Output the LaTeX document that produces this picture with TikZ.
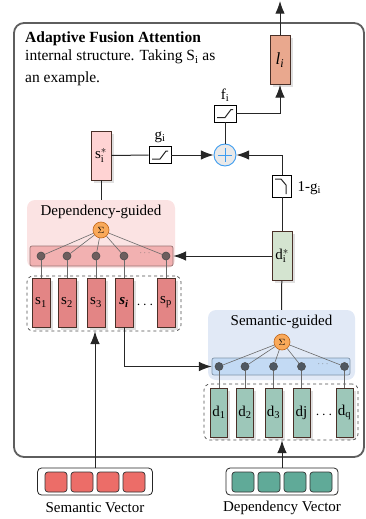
\documentclass[tikz,border=0pt]{standalone}
\usepackage{fontspec}
\setmainfont{Liberation Serif}
\usetikzlibrary{arrows,arrows.meta,shadows}

\definecolor{framegray}{HTML}{5E5E5E}
\definecolor{cellborder}{HTML}{4A3028}
\definecolor{lfill}{HTML}{E9A88E}
\definecolor{sstarfill}{HTML}{FFD3D3}
\definecolor{dstarfill}{HTML}{D4E4D0}
\definecolor{sred}{HTML}{E38585}
\definecolor{dgreen}{HTML}{9DC7B9}
\definecolor{deppanel}{HTML}{FBE3E3}
\definecolor{depbar}{HTML}{F2B1B1}
\definecolor{depbarborder}{HTML}{9A7474}
\definecolor{sempanel}{HTML}{E1E9F6}
\definecolor{sembar}{HTML}{C3DAF4}
\definecolor{sembarborder}{HTML}{8094A8}
\definecolor{depdot}{HTML}{6E5E5E}
\definecolor{semdot}{HTML}{4F5862}
\definecolor{sumfill}{HTML}{F9A95A}
\definecolor{sumborder}{HTML}{C0661A}
\definecolor{plusblue}{HTML}{3C9CF0}
\definecolor{plusfill}{HTML}{E9E9E9}
\definecolor{vecred}{HTML}{EC6D68}
\definecolor{vecgreen}{HTML}{60AA98}
\definecolor{wiregray}{HTML}{6A6A6A}

\begin{document}
\begin{tikzpicture}[x = 1pt, y = -1pt, font = \fontsize{15}{18}\selectfont,
                    >={Latex[scale=1.7]}]
\tikzstyle{Cell}=[draw = cellborder, line width = 0.8pt,
                  minimum width = 18pt, minimum height = 49pt, inner sep = 0pt,
                  drop shadow = {shadow xshift = 2.5pt, shadow yshift = -2.5pt, opacity = 0.25}]
\tikzstyle{Panel}=[rounded corners = 8pt, inner sep = 0pt]
\tikzstyle{Bar}=[line width = 0.7pt, rounded corners = 2pt, inner sep = 0pt]
\tikzstyle{Group}=[draw = black!70, dashed, line width = 0.7pt, rounded corners = 6pt, inner sep = 0pt]
\tikzstyle{Dot}=[circle, line width = 0.6pt, minimum size = 8pt, inner sep = 0pt]
\tikzstyle{Sigma}=[circle, fill = sumfill, draw = sumborder, line width = 0.6pt,
                   minimum size = 16pt, inner sep = 0pt, font = \fontsize{9}{9}\selectfont]
\tikzstyle{Gate}=[draw = black, fill = white, line width = 0.8pt, inner sep = 0pt]
\tikzstyle{Wire}=[draw = wiregray, line width = 0.6pt]
\tikzstyle{Line}=[draw = black!85, line width = 1pt]
\tikzstyle{Arrow}=[Line, ->]
\tikzstyle{Vec}=[draw = black!85, fill = white, line width = 0.8pt, rounded corners = 4pt,
                 minimum width = 115pt, minimum height = 27pt, inner sep = 0pt]
\tikzstyle{VecCell}=[draw = black!80, line width = 0.7pt, rounded corners = 3pt,
                     minimum width = 22pt, minimum height = 20pt, inner sep = 0pt]

\useasboundingbox (0,0) rectangle (366,519);

% frame and caption
\draw[draw = framegray, line width = 1.8pt, rounded corners = 10pt] (14,23) rectangle (364,457);
\node[anchor = north west, align = left, inner sep = 0pt, font = \fontsize{15.5}{18}\selectfont] (head) at (25,32)
     {\textbf{Adaptive Fusion Attention}\\ internal structure. Taking S\textsubscript{i} as\\[4pt] an example.};

% dependency-guided side
\node[Panel, fill = deppanel, minimum width = 148pt, minimum height = 68pt] (deppanel) at (101,234) {};
\node (deplabel) at (101,212) {Dependency-guided};
\node[Sigma] (depsum) at (101,230) {$\Sigma$};
\node[Bar, fill = depbar, draw = depbarborder, minimum width = 143pt, minimum height = 20pt] (depbar) at (101.5,256) {};
\node[Group, minimum width = 154pt, minimum height = 55pt] (sgroup) at (104,303.5) {};
\node[Dot, fill = depdot, draw = black!70] (dd1) at (41,256) {};
\node[Dot, fill = depdot, draw = black!70] (dd2) at (67,256) {};
\node[Dot, fill = depdot, draw = black!70] (dd3) at (96,256) {};
\node[Dot, fill = depdot, draw = black!70] (dd4) at (124,256) {};
\node[Dot, fill = depdot, draw = black!70] (dd5) at (166,256) {};
\node[text = black!60, font = \fontsize{9}{9}\selectfont] (dddots) at (145,253) {$\cdots$};
\node[Cell, fill = sred] (s1) at (41,302.5) {s\textsubscript{1}};
\node[Cell, fill = sred] (s2) at (67,302.5) {s\textsubscript{2}};
\node[Cell, fill = sred] (s3) at (96,302.5) {s\textsubscript{3}};
\node[Cell, fill = sred] (si) at (124,302.5) {\textbf{\textit{s\textsubscript{i}}}};
\node (sdots) at (145,305) {$\cdots$};
\node[Cell, fill = sred] (sp) at (166,302.5) {s\textsubscript{p}};
\draw[Wire] (depsum) -- (dd1);
\draw[Wire] (depsum) -- (dd2);
\draw[Wire] (depsum) -- (dd3);
\draw[Wire] (depsum) -- (dd4);
\draw[Wire] (depsum) -- (dd5);
\draw[Wire] (dd1) -- (s1);
\draw[Wire] (dd2) -- (s2);
\draw[Wire] (dd3) -- (s3);
\draw[Wire] (dd4) -- (si);
\draw[Wire] (dd5) -- (sp);

% semantic-guided side
\node[Panel, fill = sempanel, minimum width = 147pt, minimum height = 70pt] (sempanel) at (281.5,345) {};
\node (semlabel) at (281.5,322) {Semantic-guided};
\node[Sigma] (semsum) at (282,342) {$\Sigma$};
\node[Bar, fill = sembar, draw = sembarborder, minimum width = 138pt, minimum height = 17pt] (sembar) at (281,366.5) {};
\node[Group, minimum width = 154pt, minimum height = 56pt] (dgroup) at (281,412) {};
\node[Dot, fill = semdot, draw = black!70] (sd1) at (219,366.5) {};
\node[Dot, fill = semdot, draw = black!70] (sd2) at (245,366.5) {};
\node[Dot, fill = semdot, draw = black!70] (sd3) at (273.5,366.5) {};
\node[Dot, fill = semdot, draw = black!70] (sd4) at (301.5,366.5) {};
\node[Dot, fill = semdot, draw = black!70] (sd5) at (344.5,366.5) {};
\node[text = black!60, font = \fontsize{9}{9}\selectfont] (sddots) at (323,364) {$\cdots$};
\node[Cell, fill = dgreen, minimum width = 17pt] (d1) at (219,412.5) {d\textsubscript{1}};
\node[Cell, fill = dgreen, minimum width = 17pt] (d2) at (245,412.5) {d\textsubscript{2}};
\node[Cell, fill = dgreen, minimum width = 17pt] (d3) at (273.5,412.5) {d\textsubscript{3}};
\node[Cell, fill = dgreen, minimum width = 17pt] (dj) at (301.5,412.5) {dj};
\node (ddots) at (324,415) {$\cdots$};
\node[Cell, fill = dgreen, minimum width = 17pt] (dq) at (344.5,412.5) {d\textsubscript{q}};
\draw[Wire] (semsum) -- (sd1);
\draw[Wire] (semsum) -- (sd2);
\draw[Wire] (semsum) -- (sd3);
\draw[Wire] (semsum) -- (sd4);
\draw[Wire] (semsum) -- (sd5);
\draw[Wire] (sd1) -- (d1);
\draw[Wire] (sd2) -- (d2);
\draw[Wire] (sd3) -- (d3);
\draw[Wire] (sd4) -- (dj);
\draw[Wire] (sd5) -- (dq);

% fusion
\node[Cell, fill = sstarfill, minimum width = 20pt] (sstar) at (101,155.5) {$\mathrm{s}_{\mathrm{i}}^{*}$};
\node[Cell, fill = dstarfill, minimum width = 20pt] (dstar) at (282,256) {$\mathrm{d}_{\mathrm{i}}^{*}$};
\node[Cell, fill = lfill, minimum width = 20pt] (li) at (280,60) {\fontsize{17}{18}\selectfont\textit{l\textsubscript{i}}};
\node[circle, draw = plusblue, fill = plusfill, line width = 0.9pt, minimum size = 22pt, inner sep = 0pt] (plus) at (225,155) {};
\node[Gate, minimum width = 22pt, minimum height = 17pt] (gbox) at (160,155) {};
\node[Gate, minimum width = 22pt, minimum height = 17pt] (fbox) at (225,113.5) {};
\node[Gate, minimum width = 19pt, minimum height = 22pt] (hbox) at (282,186) {};
\node (glabel) at (160,137) {g\textsubscript{i}};
\node (flabel) at (225,95) {f\textsubscript{i}};
\node[anchor = west] (hlabel) at (294,188) {1-g\textsubscript{i}};
\coordinate (out) at (280,1);
\draw[plusblue, line width = 1pt, shift = {(plus.center)}] (-7,0) -- (7,0) (0,-7) -- (0,7);
\draw[Line, shift = {(gbox.center)}] (-8,4) -- (0,4) -- (6,-4) -- (8,-4);
\draw[Line, shift = {(fbox.center)}] (-8,4) -- (0,4) -- (6,-4) -- (8,-4);
\draw[Line, shift = {(hbox.center)}] (-7,-7) -- (-1,-7) -- (4,-1) -- (4,8);

\draw[Line] (sstar) -- (deppanel.north);
\draw[Line] (sstar) -- (gbox);
\draw[Arrow] (gbox) -- (plus);
\draw[Line] (fbox) -- (plus);
\draw[Arrow] (fbox.east) -| (li.south);
\draw[Arrow] (li) -- (out);
\draw[Arrow] (hbox.north) |- (plus.east);
\draw[Line] (hbox) -- (dstar);
\draw[Arrow] (dstar.west) -- (depbar.east);
\draw[Line] (dstar) -- (sempanel.north);
\draw[Arrow] (si.south) |- (sembar.west);

% input vectors
\node[Vec] (semvec) at (95,481.5) {};
\node[VecCell, fill = vecred] (sv1) at (56,482) {};
\node[VecCell, fill = vecred] (sv2) at (82,482) {};
\node[VecCell, fill = vecred] (sv3) at (108,482) {};
\node[VecCell, fill = vecred] (sv4) at (134,482) {};
\node (semname) at (95,508) {Semantic Vector};
\node[Vec, minimum width = 112pt] (depvec) at (282,481.5) {};
\node[VecCell, fill = vecgreen] (dv1) at (243,482) {};
\node[VecCell, fill = vecgreen] (dv2) at (269,482) {};
\node[VecCell, fill = vecgreen] (dv3) at (295,482) {};
\node[VecCell, fill = vecgreen] (dv4) at (321,482) {};
\node (depname) at (282,508) {Dependency Vector};
\draw[Arrow] (semvec.north) -- (semvec.north |- sgroup.south);
\draw[Arrow] (depvec.north) -- (depvec.north |- dgroup.south);
\end{tikzpicture}
\end{document}
